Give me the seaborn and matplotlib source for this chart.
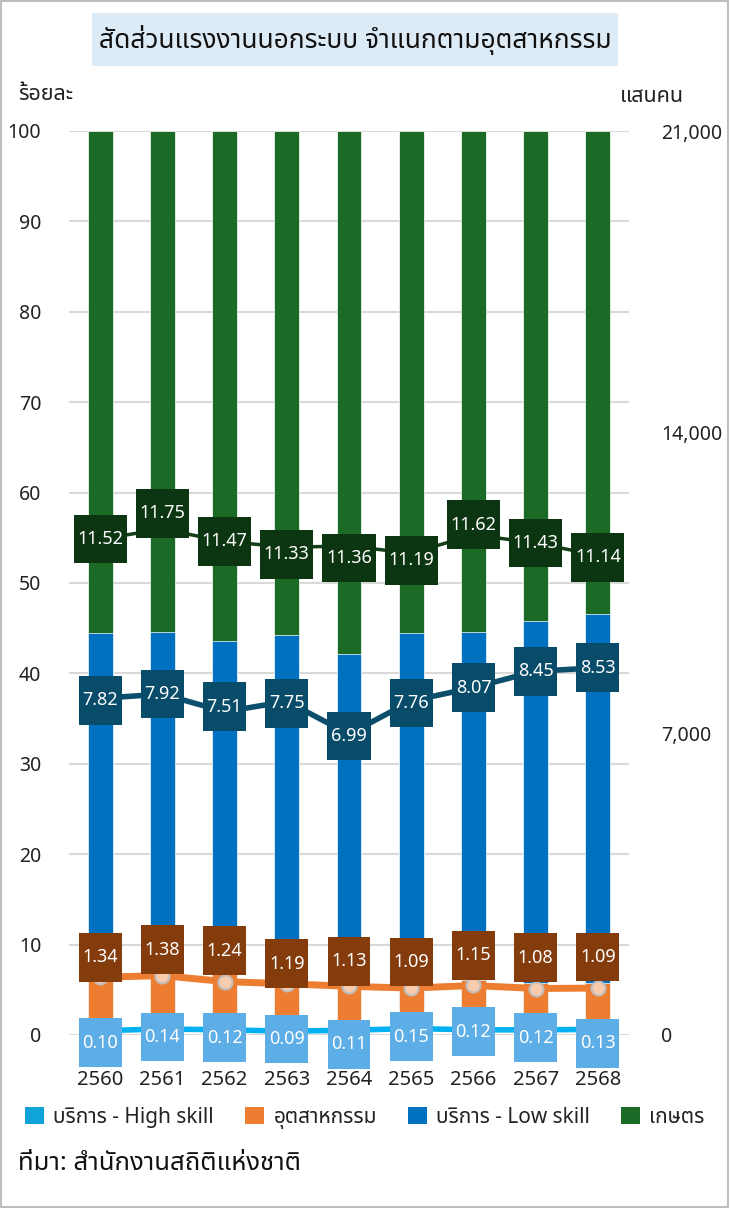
import numpy as np
import pandas as pd
import matplotlib
matplotlib.use("Agg")
import matplotlib.pyplot as plt
import seaborn as sns
from matplotlib import font_manager as fm
from matplotlib.ft2font import FT2Font
from matplotlib.patches import Patch, Rectangle
from matplotlib.path import Path
from matplotlib.ticker import FuncFormatter

# ---------------- data ----------------
years = ["2560", "2561", "2562", "2563", "2564", "2565", "2566", "2567", "2568"]
# shares (%) of informal workers by industry (bars)
share_high = [0.5, 0.7, 0.6, 0.4, 0.6, 0.7, 0.6, 0.6, 0.6]
share_ind = [6.4, 6.5, 6.1, 5.8, 5.8, 5.4, 5.5, 5.1, 5.2]
share_low = [37.6, 37.4, 36.9, 38.1, 35.7, 38.4, 38.5, 40.1, 40.8]
share_agri = [55.5, 55.4, 56.4, 55.7, 57.9, 55.5, 55.4, 54.2, 53.4]
# counts (lines, right axis)
cnt_agri = [11.52, 11.75, 11.47, 11.33, 11.36, 11.19, 11.62, 11.43, 11.14]
cnt_low = [7.82, 7.92, 7.51, 7.75, 6.99, 7.76, 8.07, 8.45, 8.53]
cnt_ind = [1.34, 1.38, 1.24, 1.19, 1.13, 1.09, 1.15, 1.08, 1.09]
cnt_high = [0.10, 0.14, 0.12, 0.09, 0.11, 0.15, 0.12, 0.12, 0.13]
left_ticks = [0, 10, 20, 30, 40, 50, 60, 70, 80, 90, 100]
right_ticks = [0, 7, 14, 21]
series_names = ["บริการ - High skill", "อุตสาหกรรม", "บริการ - Low skill", "เกษตร"]

# ---------------- font ----------------
thai_fonts = []
for f in fm.fontManager.ttflist:
    try:
        cm = FT2Font(f.fname).get_charmap()
        if 0x0E01 in cm and 0x0E33 in cm and 0x0E48 in cm:
            thai_fonts.append(f.name)
    except Exception:
        pass
pref = ["Noto Sans Thai", "Noto Sans Thai UI", "Noto Sans Thai Looped", "Sarabun",
        "Loma", "Garuda", "Tlwg Typo", "Norasi", "Kinnari", "Waree"]
thai = None
for p in pref:
    if p in thai_fonts:
        thai = p
        break
if thai is None and thai_fonts:
    thai = sorted(set(thai_fonts))[0]

sns.set_theme(style="white")
fams = ([thai] if thai else []) + ["DejaVu Sans"]
plt.rcParams["font.family"] = fams

# ---------------- colours ----------------
c_high = "#0FA3DA"
c_ind = "#ED7D31"
c_low = "#0070C0"
c_agri = "#1B6A25"

W, H = 730, 1211
fig = plt.figure(figsize=(W / 100, H / 100), dpi=100)
ax = fig.add_axes([69 / W, 1 - 1035 / H, (629 - 69) / W, (1035 - 131) / H])

df = pd.DataFrame({"year": years, "high": share_high, "ind": share_ind,
                   "low": share_low, "agri": share_agri})
df["top_agri"] = df[["high", "ind", "low", "agri"]].sum(axis=1)
df["top_low"] = df[["high", "ind", "low"]].sum(axis=1)
df["top_ind"] = df[["high", "ind"]].sum(axis=1)
df["top_high"] = df["high"]

for col, c in [("top_agri", c_agri), ("top_low", c_low), ("top_ind", c_ind), ("top_high", c_high)]:
    sns.barplot(data=df, x="year", y=col, color=c, saturation=1, width=0.4,
                edgecolor="white", linewidth=0.5, ax=ax, zorder=2)

ax.set_ylim(0, 100)
ax.set_xlim(-0.5, len(years) - 0.5)
ax.set_yticks(left_ticks)
ax.yaxis.grid(True, color="#D9D9D9", linewidth=1.5, zorder=0)
ax.set_axisbelow(True)
ax.set_xlabel("")
ax.set_ylabel("")
for s in ax.spines.values():
    s.set_visible(False)
ax.tick_params(axis="y", length=0, pad=20, labelsize=14, labelcolor="#222222")
ax.tick_params(axis="x", length=0, pad=25, labelsize=14.5, labelcolor="#222222")

ax2 = ax.twinx()
ax2.set_ylim(0, 21)
ax2.set_yticks(right_ticks)
ax2.yaxis.set_major_formatter(FuncFormatter(lambda v, p: f"{v * 1000:,.0f}"))
ax2.tick_params(axis="y", length=0, pad=23, labelsize=14, labelcolor="#222222")
for s in ax2.spines.values():
    s.set_visible(False)
ax2.grid(False)

xpos = np.arange(len(years))
sns.lineplot(x=xpos, y=cnt_agri, color="#123F17", linewidth=2.5, ax=ax2,
             marker="o", markersize=7, markeredgecolor="#9a9a9a", zorder=3)
sns.lineplot(x=xpos, y=cnt_low, color="#0B4F6C", linewidth=4, ax=ax2, zorder=3)
sns.lineplot(x=xpos, y=cnt_ind, color=c_ind, linewidth=5, ax=ax2,
             marker="o", markersize=10, markerfacecolor="#F8CBAD",
             markeredgecolor="#BFBFBF", markeredgewidth=1.5, zorder=3)
sns.lineplot(x=xpos, y=cnt_high, color="#00B0F0", linewidth=4, ax=ax2, zorder=3)


def tallbox(x0, y0, width, height, mutation_size):
    px = 0.2 * mutation_size
    py = 0.85 * mutation_size
    xa, ya, xb, yb = x0 - px, y0 - py, x0 + width + px, y0 + height + py
    return Path([(xa, ya), (xb, ya), (xb, yb), (xa, yb), (xa, ya)], closed=True)


# label offsets in pixels (positive = down)
off_agri = [0, -16, 0, 7, 12, 7, -10, 0, 2]
off_low = [2, 0, -5, 2, 2, 2, 0, 0, 0]
off_ind = [-20, -26, -31, -20, -25, -26, -30, -31, -31]
off_high = [12, 8, 8, 8, 14, 8, 2, 8, 14]


def labels(vals, offs, fc):
    for i, (v, o) in enumerate(zip(vals, offs)):
        ax2.annotate(f"{v:.2f}", (i, v), xytext=(0, -o), textcoords="offset pixels",
                     ha="center", va="center", color="white", fontsize=13, zorder=5,
                     bbox=dict(boxstyle=tallbox, fc=fc, ec="none"))


labels(cnt_agri, off_agri, "#0C3512")
labels(cnt_low, off_low, "#084C69")
labels(cnt_ind, off_ind, "#843C0C")
labels(cnt_high, off_high, "#5DADE6")

# titles and axis captions
fig.patches.append(Rectangle((92 / W, 1 - 66 / H), (618 - 92) / W, 53 / H,
                             transform=fig.transFigure, fc="#DDEBF7", ec="none", zorder=0))
fig.text(355 / W, 1 - 40 / H, "สัดส่วนแรงงานนอกระบบ จำแนกตามอุตสาหกรรม",
         ha="center", va="center", fontsize=19, fontweight="semibold", color="#111111")
fig.text(18 / W, 1 - 94 / H, "ร้อยละ", ha="left", va="center", fontsize=15.5, color="#222222")
fig.text(684 / W, 1 - 96 / H, "แสนคน", ha="right", va="center", fontsize=15.5, color="#222222")

handles = [Patch(facecolor=c, edgecolor="none") for c in [c_high, c_ind, c_low, c_agri]]
fig.legend(handles, series_names, loc="center", bbox_to_anchor=(0.5, 1 - 1118 / H),
           ncol=4, frameon=False, fontsize=15, handlelength=0.9, handleheight=0.9,
           handletextpad=0.45, columnspacing=1.5, labelcolor="#222222")
fig.text(18 / W, 1 - 1163 / H, "ที่มา: สำนักงานสถิติแห่งชาติ", ha="left", va="center",
         fontsize=18.5, color="#111111")

fig.patches.append(Rectangle((1 / W, 1 - 1207 / H), 727 / W, 1206 / H,
                             transform=fig.transFigure, fc="none", ec="#BFBFBF", lw=1.5))

fig.savefig("out.png", dpi=100)
